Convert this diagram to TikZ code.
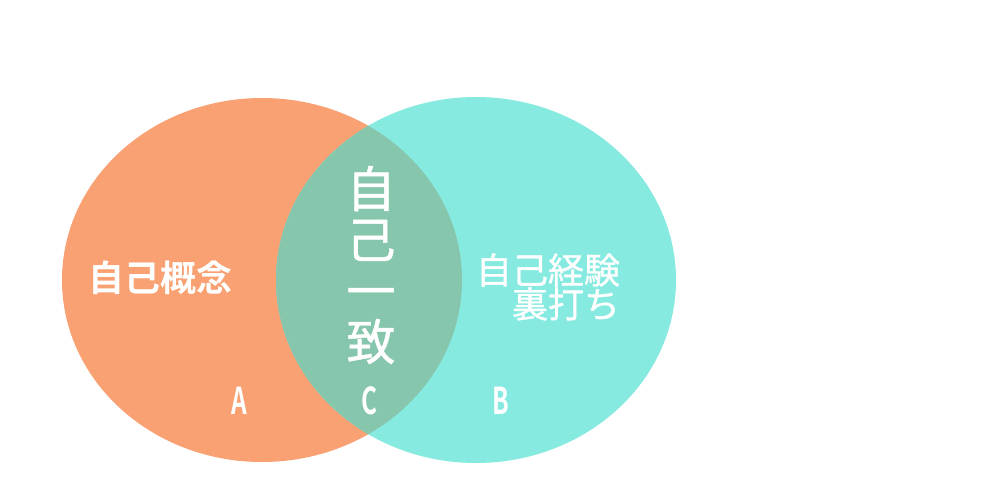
\documentclass[tikz,border=0pt]{standalone}
\usepackage{fontspec}
\newfontfamily\jp[FakeBold=0.9]{Noto Sans CJK JP}
\newfontfamily\jpb{Noto Sans CJK JP Bold}
\definecolor{orangeA}{RGB}{249,161,114}
\definecolor{tealB}{RGB}{134,234,224}
\definecolor{overlapC}{RGB}{134,198,173}
\begin{document}
\begin{tikzpicture}[x=1pt,y=-1pt,
  lbl/.style={text=white,inner sep=0pt,font=\jp\fontsize{36}{34}\selectfont},
  letter/.style={text=white,inner sep=0pt,xscale=0.66,font=\jpb\fontsize{37}{40}\selectfont}]
\useasboundingbox (0,0) rectangle (1000,480);
\fill[white] (0,0) rectangle (1000,480);
\fill[orangeA] (262,280) ellipse [x radius=200, y radius=182];
\fill[tealB] (476,280) ellipse [x radius=200, y radius=183];
\begin{scope}
\clip (262,280) ellipse [x radius=200, y radius=182];
\fill[overlapC] (476,280) ellipse [x radius=200, y radius=183];
\end{scope}
\node[lbl,font=\jpb\fontsize{36}{34}\selectfont] (ta) at (160,278) {自己概念};
\node[lbl,align=right] (tb) at (548,287) {自己経験\\裏打ち};
\node[text=white,inner sep=0pt,align=center,font=\jp\fontsize{49}{51}\selectfont] (tc) at (371,265) {自\\己\\一\\致};
\node[letter] (la) at (239.5,401) {A};
\node[letter] (lc) at (370,401) {C};
\node[letter] (lb) at (500.5,401) {B};
\end{tikzpicture}
\end{document}
